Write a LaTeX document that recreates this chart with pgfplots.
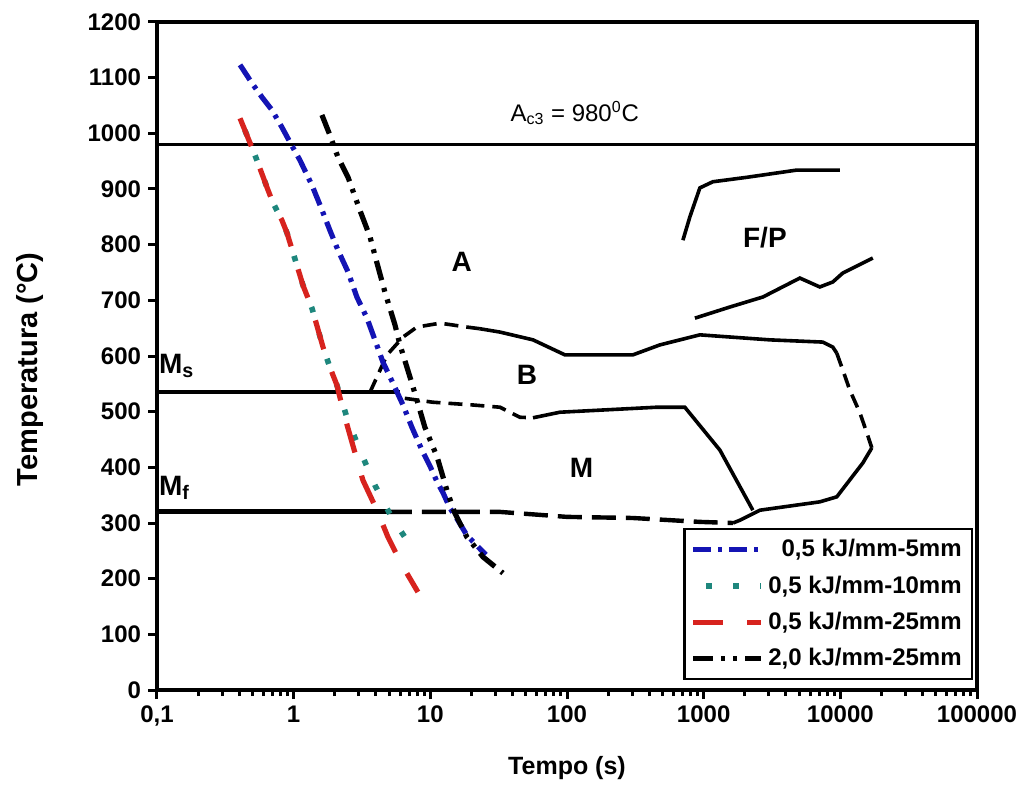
\documentclass[border=0pt]{standalone}
\usepackage{pgfplots}
\pgfplotsset{compat=1.18}
\usepackage{fontspec}
\setmainfont{Liberation Sans}
\usetikzlibrary{calc}
\definecolor{cblue}{RGB}{20,20,180}
\definecolor{cteal}{RGB}{30,135,125}
\definecolor{cred}{RGB}{215,35,30}
\begin{document}
\begin{tikzpicture}
\begin{axis}[
  scale only axis, width=410pt, height=334pt,
  xmode=log, xmin=0.1, xmax=100000, ymin=0, ymax=1200,
  xtick={0.1,1,10,100,1000,10000,100000},
  xticklabels={{0,1},1,10,100,1000,10000,100000},
  ytick={0,100,...,1200},
  /pgf/number format/1000 sep={},
  /pgf/number format/assume math mode=true,
  tick pos=left, tick align=outside,
  major tick length=4.5pt, minor tick length=3pt,
  every tick/.style={black, line width=1.5pt},
  axis line style={line width=2pt},
  ticklabel style={font=\bfseries\fontsize{12}{14}\selectfont},
  xlabel={Tempo (s)}, ylabel={Temperatura (°C)},
  xlabel style={font=\bfseries\fontsize{12.5}{15}\selectfont, at={(axis description cs:0.5,-0.117)}, anchor=center},
  ylabel style={font=\bfseries\fontsize{14.5}{16}\selectfont, at={(axis description cs:-0.155,0.48)}, anchor=center},
  clip=false,
  legend style={at={(rel axis cs:0.995,0.015)}, anchor=south east, draw=black, line width=1.2pt,
    font=\bfseries\fontsize{12}{14}\selectfont, row sep=4pt, inner sep=3pt, fill=white},
  legend cell align=right,
  legend image code/.code={\draw[#1] (0pt,0pt) -- (34pt,0pt);},
]
\coordinate (O) at (rel axis cs:0,0);
\coordinate (E) at (rel axis cs:1,1);
% reference lines
\addplot[black, line width=1.8pt, forget plot] coordinates {(0.1,980)(100000,980)};
\addplot[black, line width=1.8pt, forget plot] coordinates {(0.1,535)(6.0,535)};
\addplot[black, line width=2.6pt, forget plot] coordinates {(0.1,320)(4.9,320)};
\addplot[black, line width=2.2pt, dash pattern=on 12pt off 5pt, forget plot] coordinates {(4.9,320)(32,320)(100,311)(303,309)(938,302)(1640,300)};
% A/B boundary
\addplot[black, line width=1.8pt, dash pattern=on 7pt off 4pt, forget plot] coordinates {(3.62,535)(4.82,602)(6.31,634)(7.98,652)(11.8,659)(18.5,652)(23,649)};
\addplot[black, line width=1.8pt, forget plot] coordinates {(23,649)(32.3,643)(56.4,629)(96.6,602)(303,602)(479,620)(938,638)(3048,629)(7447,625)(8810,616)(9420,605)};
\addplot[black, line width=1.8pt, dash pattern=on 7pt off 4pt, forget plot] coordinates {(9420,605)(10420,575)(11720,539)(13900,498)(15630,462)(17000,435)};
\addplot[black, line width=1.8pt, forget plot] coordinates {(17000,435)(14620,408)(9420,347)(7080,338)(2578,323)(1842,305)(1640,300)};
% B/M boundary
\addplot[black, line width=1.8pt, dash pattern=on 7pt off 4pt, forget plot] coordinates {(6.5,524)(10.4,517)(20.5,512)(32.3,508)(45.2,490)(56.4,489)};
\addplot[black, line width=1.8pt, forget plot] coordinates {(56.4,489)(88.7,499)(455,508)(728,508)(1314,431)(2290,323)};
% F/P curves
\addplot[black, line width=1.8pt, forget plot] coordinates {(705,808)(793,850)(938,902)(1167,913)(2070,921)(4808,934)(9910,934)};
\addplot[black, line width=1.8pt, forget plot] coordinates {(863,668)(1556,688)(2712,706)(5058,740)(7080,724)(8810,733)(10420,749)(17300,776)};
% cooling curves
\addplot[cblue, line width=2.6pt, dash pattern=on 9pt off 3.5pt on 2pt off 3.5pt] coordinates {
(0.405,1123)(0.496,1090)(0.586,1065)(0.693,1042)(0.82,1011)(0.94,984)(1.11,952)(1.36,907)(1.56,871)(1.84,826)(2.11,790)(2.50,751)(2.90,706)(3.44,668)(3.93,629)(4.50,589)(5.33,551)(6.31,512)(7.33,472)(8.68,431)(10,401)(11.2,374)(12.4,354)(13.9,327)(15.9,305)(18.5,278)(24.3,248)(25.5,243)};
\addlegendentry{0,5 kJ/mm-5mm}
\addplot[cteal, line width=2.8pt, dash pattern=on 2.8pt off 10.7pt, dash phase=7pt] coordinates {
(0.405,1027)(0.479,983)(0.521,961)(0.649,898)(0.707,875)(0.82,844)(0.894,821)(1.17,727)(1.36,686)(1.64,616)(1.84,580)(2.07,548)(2.45,490)(3.05,431)(3.6,390)(3.93,368)(5.24,309)(7.7,248)};
\addlegendentry{0,5 kJ/mm-10mm}
\addplot[cred, line width=2.6pt, dash pattern=on 15pt off 12pt] coordinates {
(0.405,1027)(0.479,983)(0.521,961)(0.649,898)(0.707,875)(0.82,844)(0.894,821)(1.17,727)(1.36,686)(1.64,616)(1.84,580)(2.07,548)(2.37,490)(2.81,426)(3.21,377)(4.07,323)(4.89,275)(6.19,225)(8.11,176)};
\addlegendentry{0,5 kJ/mm-25mm}
\addplot[black, line width=2.6pt, dash pattern=on 10pt off 4pt on 2pt off 4pt on 2pt off 4pt] coordinates {
(1.61,1033)(1.84,997)(2.11,957)(2.50,921)(3.05,862)(3.62,814)(4.07,767)(4.65,715)(5.51,656)(6.0,620)(7.1,562)(7.98,521)(9.12,472)(11.2,419)(13.4,354)(15.1,318)(18.5,275)(24.3,239)(34,210)};
\addlegendentry{2,0 kJ/mm-25mm}
% labels
\node[font=\bfseries\fontsize{14}{16}\selectfont] at (axis cs:17,769) {A};
\node[font=\bfseries\fontsize{14}{16}\selectfont] at (axis cs:51,566) {B};
\node[font=\bfseries\fontsize{14}{16}\selectfont] at (axis cs:128,399) {M};
\node[font=\bfseries\fontsize{14}{16}\selectfont] at (axis cs:2805,812) {F/P};
\node[font=\fontsize{12}{14}\selectfont] at (axis cs:114,1036) {A\textsubscript{c3} = 980\textsuperscript{0}C};
\node[anchor=base west, inner sep=0pt, font=\bfseries\fontsize{14}{16}\selectfont] at (axis cs:0.103,569) {M\textsubscript{s}};
\node[anchor=base west, inner sep=0pt, font=\bfseries\fontsize{14}{16}\selectfont] at (axis cs:0.103,350) {M\textsubscript{f}};
\end{axis}
\pgfresetboundingbox
\path ($(O)+(-78.5pt,-48.5pt)$) rectangle ($(E)+(22pt,11pt)$);
\end{tikzpicture}
\end{document}
